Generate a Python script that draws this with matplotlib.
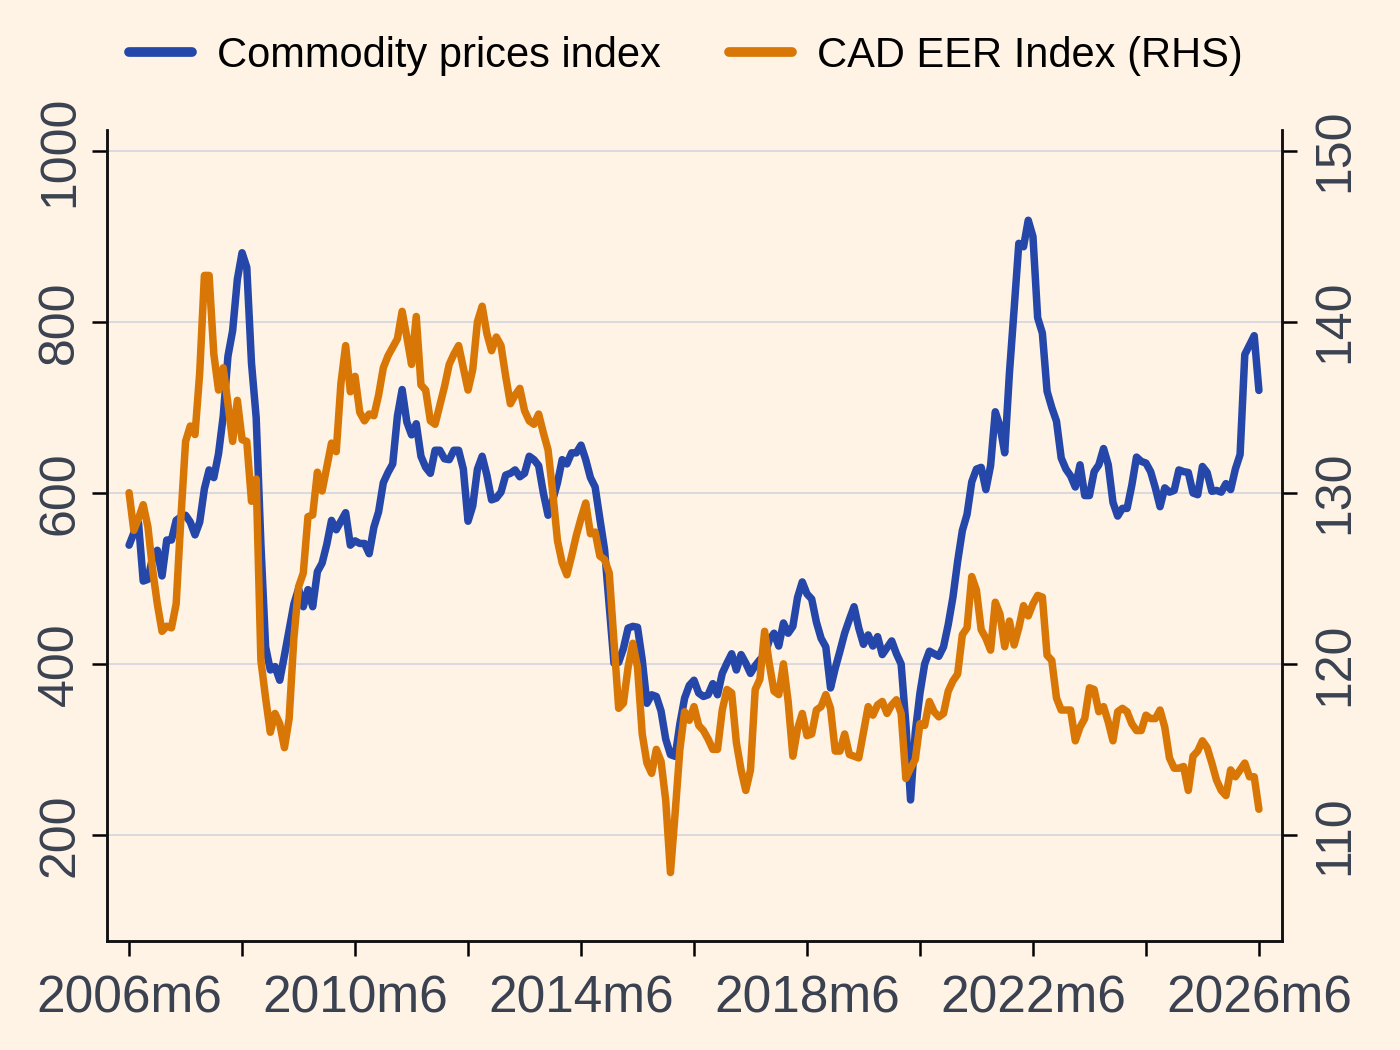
import numpy as np
import matplotlib.pyplot as plt

# monthly data, 2006m6 .. 2026m6
commodity = [
    539, 553, 565, 497, 499, 525, 533, 503, 545, 545, 568, 572,
    574, 566, 551, 566, 605, 627, 618, 646, 690, 760, 790, 850,
    881, 864, 752, 688, 540, 420, 393, 397, 381, 410, 440, 470,
    488, 467, 487, 467, 508, 518, 540, 568, 557, 567, 577, 539,
    544, 541, 541, 529, 560, 578, 612, 624, 634, 690, 721, 683,
    668, 681, 643, 630, 623, 650, 650, 640, 639, 650, 650, 628,
    567, 585, 628, 643, 621, 592, 594, 601, 621, 623, 627, 619,
    623, 643, 639, 632, 600, 574, 592, 612, 639, 634, 647, 647,
    656, 639, 618, 607, 570, 534, 467, 401, 402, 418, 442, 444,
    443, 405, 354, 364, 362, 345, 312, 294, 292, 330, 360, 375,
    381, 366, 362, 364, 377, 364, 389, 401, 412, 393, 411, 401,
    389, 398, 405, 410, 428, 436, 421, 448, 436, 444, 478, 496,
    482, 476, 449, 430, 420, 372, 395, 415, 436, 452, 467, 442,
    423, 434, 421, 432, 411, 419, 427, 412, 400, 330, 241, 320,
    366, 400, 415, 412, 409, 420, 446, 478, 520, 556, 575, 613,
    628, 630, 604, 632, 695, 678, 647, 740, 815, 892, 888, 919,
    900, 805, 787, 719, 700, 684, 641, 628, 620, 607, 633, 597,
    597, 625, 633, 652, 633, 589, 573, 582, 582, 609, 642, 637,
    635, 625, 606, 584, 606, 601, 603, 627, 625, 624, 600, 598,
    631, 624, 602, 603, 601, 611, 604, 628, 645, 762, 773, 784,
    720,
]

cad_eer = [
    130.0, 127.8, 128.5, 129.3, 128.0, 125.5, 123.5, 121.9, 122.2, 122.1, 123.5, 128.5,
    133.0, 133.9, 133.4, 137.0, 142.7, 142.7, 138.1, 136.0, 137.3, 135.2, 133.0, 135.4,
    133.1, 133.0, 129.5, 130.8, 120.2, 118.0, 116.0, 117.1, 116.5, 115.1, 116.8, 121.5,
    124.5, 125.3, 128.6, 128.7, 131.2, 130.1, 131.5, 132.9, 132.4, 136.4, 138.6, 135.9,
    136.8, 134.7, 134.2, 134.6, 134.5, 135.7, 137.3, 138.0, 138.5, 139.0, 140.6, 139.1,
    137.5, 140.3, 136.3, 136.0, 134.2, 134.0, 135.1, 136.2, 137.5, 138.1, 138.6, 137.3,
    136.0, 137.2, 140.0, 140.9, 139.3, 138.3, 139.1, 138.6, 136.8, 135.2, 135.7, 136.1,
    134.8, 134.2, 134.0, 134.6, 133.5, 132.5, 130.0, 127.2, 125.9, 125.2, 126.3, 127.5,
    128.5, 129.4, 127.6, 127.7, 126.3, 126.1, 125.3, 121.3, 117.4, 117.7, 119.8, 121.2,
    119.8, 115.9, 114.2, 113.6, 115.0, 114.3, 112.0, 107.8, 111.3, 115.0, 117.2, 116.7,
    117.5, 116.4, 116.1, 115.6, 115.0, 115.0, 117.3, 118.5, 118.3, 115.4, 113.8, 112.6,
    113.8, 118.5, 119.1, 121.9, 120.0, 118.4, 118.2, 120.0, 117.8, 114.6, 116.2, 117.1,
    115.8, 115.9, 117.3, 117.5, 118.2, 117.4, 114.9, 114.9, 115.9, 114.7, 114.6, 114.5,
    116.0, 117.5, 117.0, 117.6, 117.8, 117.1, 117.6, 117.9, 117.1, 113.3, 113.9, 114.4,
    116.5, 116.4, 117.8, 117.2, 116.9, 117.1, 118.4, 119.0, 119.4, 121.7, 122.1, 125.1,
    124.3, 122.0, 121.5, 120.8, 123.6, 122.9, 121.0, 122.5, 121.1, 122.1, 123.4, 122.8,
    123.5, 124.0, 123.9, 120.5, 120.2, 118.0, 117.3, 117.3, 117.3, 115.5, 116.3, 116.8,
    118.6, 118.5, 117.2, 117.5, 116.6, 115.5, 117.2, 117.4, 117.2, 116.5, 116.1, 116.1,
    117.0, 116.8, 116.8, 117.3, 116.3, 114.5, 113.9, 113.9, 114.0, 112.6, 114.6, 114.9,
    115.5, 115.1, 114.2, 113.2, 112.6, 112.3, 113.8, 113.4, 113.8, 114.2, 113.4, 113.4,
    111.5,
]

xtick_labels = ['2006m6', '', '2010m6', '', '2014m6', '', '2018m6', '',
                '2022m6', '', '2026m6']
left_ticks = [200, 400, 600, 800, 1000]
right_ticks = [110, 120, 130, 140, 150]

bg = '#fff3e5'
blue = '#2447a9'
orange = '#d97706'
textc = '#3a4150'

plt.rcParams['font.family'] = ['Liberation Sans', 'DejaVu Sans']

months = np.arange(len(commodity))

fig = plt.figure(figsize=(14, 10.5), dpi=100, facecolor=bg)
ax = fig.add_axes([0.0764, 0.1038, 0.8393, 0.7724])
ax.set_facecolor(bg)
ax2 = ax.twinx()

l1, = ax.plot(months, commodity, color=blue, lw=5.4,
              solid_joinstyle='round', solid_capstyle='round')
l2, = ax2.plot(months, cad_eer, color=orange, lw=5.4,
               solid_joinstyle='round', solid_capstyle='round')

ax.set_xlim(-4.7, 244.9)
ax.set_ylim(76, 1024.6)
ax2.set_ylim(103.8, 151.2)

ax.set_xticks(np.arange(0, 241, 24))
ax.set_xticklabels(xtick_labels)
ax.set_yticks(left_ticks)
ax2.set_yticks(right_ticks)

ax.grid(axis='y', color='#d9d9dd', lw=1.4)
ax.set_axisbelow(True)

for a in (ax, ax2):
    a.spines['top'].set_visible(False)
    for s in ('left', 'right', 'bottom'):
        a.spines[s].set_linewidth(1.8)
        a.spines[s].set_color('#111111')
    a.tick_params(length=11, width=1.8, labelsize=37, labelcolor=textc, pad=6)

ax.tick_params(axis='x', pad=13)
ax.tick_params(axis='y', labelrotation=90, labelsize=36)
ax2.tick_params(axis='y', labelrotation=90, labelsize=36, pad=11)
for lab in ax.get_yticklabels() + ax2.get_yticklabels():
    lab.set_va('center')

fig.legend([l1, l2], ['Commodity prices index', 'CAD EER Index (RHS)'],
           loc='center', bbox_to_anchor=(0.49, 0.947), ncol=2, frameon=False,
           fontsize=30, handlelength=1.5, handletextpad=0.6, columnspacing=1.65)
for line in fig.legends[0].get_lines():
    line.set_linewidth(7)

fig.savefig('out.png', dpi=100, facecolor=bg)
